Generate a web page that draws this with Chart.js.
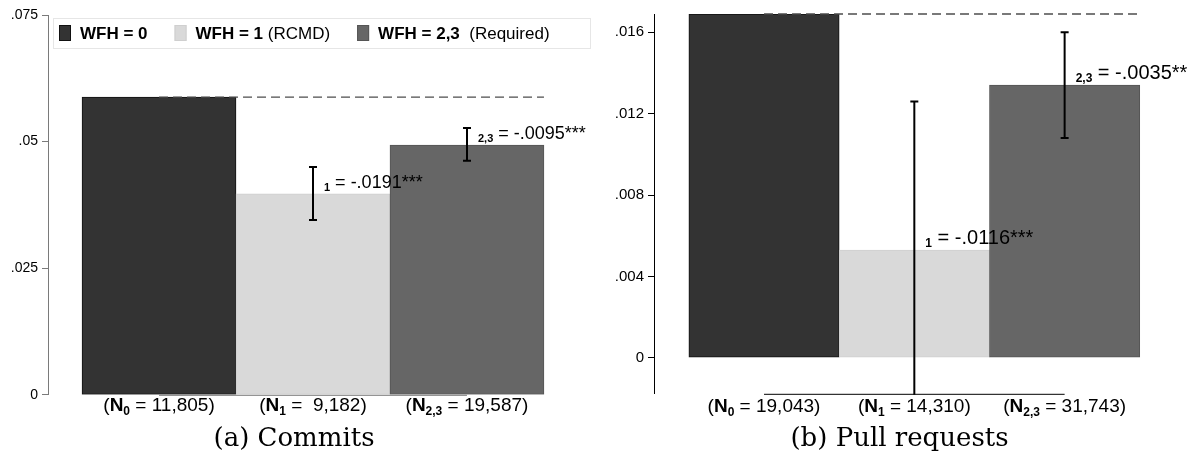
<!DOCTYPE html>
<html>
<head>
<meta charset="utf-8">
<script src="https://cdn.jsdelivr.net/npm/chart.js@4.4.1/dist/chart.umd.min.js"></script>
<style>
body{margin:0;background:#fff}
#a{position:absolute;left:0;top:0}
#b{position:absolute;left:600px;top:0}
</style>
</head>
<body>
<canvas id="a" width="600" height="456"></canvas>
<canvas id="b" width="599" height="456"></canvas>
<script>
// groups (legend), shared by both panels
const groups = ['WFH = 0', 'WFH = 1', 'WFH = 2,3']
const groupNotes = ['', ' (RCMD)', '  (Required)']
const groupSubs = ['0', '1', '2,3']
const colors = ['#333333', '#d9d9d9', '#666666']
const borders = ['#111111', '#cfcfcf', '#555555']

// (a) commits
const commits = [0.0588, 0.0397, 0.0493]
const commitsLo = [null, 0.0345, 0.0462]
const commitsHi = [null, 0.0450, 0.0527]
const commitsDiff = [null, '-.0191***', '-.0095***']
const commitsN = ['11,805', ' 9,182', '19,587']
const commitsTicks = [0, 0.025, 0.05, 0.075]

// (b) pull requests
const pulls = [0.0169, 0.0053, 0.0134]
const pullsLo = [null, -0.0020, 0.0108]
const pullsHi = [null, 0.0126, 0.0160]
const pullsDiff = [null, '-.0116***', '-.0035**']
const pullsN = ['19,043', '14,310', '31,743']
const pullsTicks = [0, 0.004, 0.008, 0.012, 0.016]

const SANS = '"Liberation Sans", Arial, Helvetica, sans-serif'
Chart.defaults.font.family = SANS
Chart.defaults.color = '#000'

function fmt(v) {
  let s = String(+v.toFixed(4))
  return s.replace(/^0\./, '.').replace(/^-0\./, '-.')
}

// draw a run of text pieces with different fonts
function drawParts(ctx, parts, x, y, align) {
  let w = 0
  parts.forEach(p => { ctx.font = p.font; p.w = ctx.measureText(p.t).width; w += p.w })
  let cx = align === 'center' ? x - w / 2 : x
  ctx.textAlign = 'left'
  ctx.textBaseline = 'alphabetic'
  parts.forEach(p => {
    ctx.font = p.font
    ctx.fillText(p.t, cx, y + (p.dy || 0))
    cx += p.w
  })
  return cx
}

const extras = {
  id: 'extras',
  afterDatasetsDraw(chart, args, o) {
    const {ctx, chartArea: ca, scales: {y}} = chart
    const bars = chart.getDatasetMeta(0).data
    ctx.save()

    // dashed line at the WFH = 0 level
    ctx.strokeStyle = '#4d4d4d'
    ctx.lineWidth = 1.3
    ctx.setLineDash([9, 5])
    ctx.beginPath()
    ctx.moveTo(bars[0].x, bars[0].y)
    ctx.lineTo(bars[2].x + bars[2].width / 2, bars[0].y)
    ctx.stroke()
    ctx.setLineDash([])

    // x axis line (first to last group)
    ctx.strokeStyle = o.axisColor
    ctx.lineWidth = 1
    ctx.beginPath()
    ctx.moveTo(bars[0].x, ca.bottom + 0.5)
    ctx.lineTo(bars[2].x, ca.bottom + 0.5)
    ctx.stroke()

    // confidence intervals
    ctx.save()
    ctx.beginPath()
    ctx.rect(ca.left, ca.top - 2, ca.width, ca.height + 3)
    ctx.clip()
    ctx.strokeStyle = '#000'
    ctx.lineWidth = 2
    o.lo.forEach((lo, i) => {
      if (lo === null) return
      const px = bars[i].x
      const y0 = y.getPixelForValue(lo)
      const y1 = y.getPixelForValue(o.hi[i])
      ctx.beginPath()
      ctx.moveTo(px, y0); ctx.lineTo(px, y1)
      ctx.moveTo(px - 4, y0); ctx.lineTo(px + 4, y0)
      ctx.moveTo(px - 4, y1); ctx.lineTo(px + 4, y1)
      ctx.stroke()
    })
    ctx.restore()

    // difference labels
    ctx.fillStyle = '#000'
    o.diff.forEach((d, i) => {
      if (d === null) return
      drawParts(ctx, [
        {t: groupSubs[i], font: 'bold ' + o.subSize + 'px ' + SANS, dy: 3},
        {t: ' = ' + d, font: o.diffSize + 'px ' + SANS}
      ], bars[i].x + 11, bars[i].y - 6, 'left')
    })

    // sample sizes under the bars
    o.n.forEach((n, i) => {
      drawParts(ctx, [
        {t: '(', font: '19px ' + SANS},
        {t: 'N', font: 'bold 19px ' + SANS},
        {t: groupSubs[i], font: 'bold 12px ' + SANS, dy: 4},
        {t: ' = ' + n + ')', font: '19px ' + SANS}
      ], bars[i].x, ca.bottom + o.nOffset, 'center')
    })

    // legend box inside the plot
    if (o.legend) {
      const bx = ca.left + 5, by = ca.top + 3, bw = ca.width - 3, bh = 30
      ctx.fillStyle = '#fff'
      ctx.fillRect(bx, by, bw, bh)
      ctx.strokeStyle = '#e6e6e6'
      ctx.lineWidth = 1
      ctx.strokeRect(bx + 0.5, by + 0.5, bw, bh)
      const cy = by + bh / 2
      let x = bx + 6
      groups.forEach((g, i) => {
        ctx.fillStyle = colors[i]
        ctx.fillRect(x, cy - 8, 12, 16)
        ctx.strokeStyle = borders[i]
        ctx.strokeRect(x + 0.5, cy - 7.5, 11, 15)
        ctx.fillStyle = '#000'
        x = drawParts(ctx, [
          {t: g, font: 'bold 17px ' + SANS},
          {t: groupNotes[i], font: '17px ' + SANS}
        ], x + 21, cy + 6, 'left')
        x += 27
      })
    }
    ctx.restore()
  }
}

function makeChart(id, o) {
  return new Chart(document.getElementById(id), {
    type: 'bar',
    data: {
      datasets: [{
        data: o.values.map((v, i) => ({x: i + 1, y: v})),
        backgroundColor: colors,
        borderColor: borders,
        borderWidth: 1,
        borderSkipped: false,
        barPercentage: 1,
        categoryPercentage: 1
      }]
    },
    options: {
      responsive: false,
      animation: false,
      layout: {padding: {left: 0, right: o.padRight, top: o.padTop, bottom: 0}},
      scales: {
        x: {
          type: 'linear', display: false, offset: false, bounds: 'data', min: o.xMin, max: o.xMax,
          // one tick per group so bars fill the whole group width
          afterBuildTicks: s => { s.ticks = o.values.map((v, i) => ({value: i + 1})) }
        },
        y: {
          min: o.yMin,
          max: o.yMax,
          afterBuildTicks: s => { s.ticks = o.ticks.map(v => ({value: v})) },
          afterFit: s => { s.width = o.axisWidth },
          ticks: {callback: v => fmt(v), font: {size: o.tickSize}, padding: 4, color: '#000'},
          grid: {drawOnChartArea: false, drawTicks: true, tickLength: 6, color: o.axisColor},
          border: {display: true, color: o.axisColor, width: 1}
        }
      },
      plugins: {
        legend: {display: false},
        tooltip: {enabled: false},
        title: {
          display: true,
          text: o.title,
          position: 'bottom',
          color: '#000',
          font: {family: '"DejaVu Serif", serif', size: 26, weight: 'normal'},
          padding: {top: o.titlePad, bottom: 1}
        },
        extras: {
          lo: o.lo, hi: o.hi, diff: o.diff, n: o.n, legend: o.legend,
          axisColor: o.axisColor, diffSize: o.diffSize, subSize: o.subSize, nOffset: o.nOffset
        }
      }
    },
    plugins: [extras]
  })
}

makeChart('a', {
  values: commits, lo: commitsLo, hi: commitsHi, diff: commitsDiff, n: commitsN, ticks: commitsTicks,
  title: '(a) Commits', legend: true,
  yMin: 0, yMax: 0.075, xMin: 0.279, xMax: 3.786,
  padTop: 15, padRight: 12, titlePad: 29, axisWidth: 48,
  axisColor: '#7a7a7a', tickSize: 14, diffSize: 18, subSize: 11, nOffset: 16
})

makeChart('b', {
  values: pulls, lo: pullsLo, hi: pullsHi, diff: pullsDiff, n: pullsN, ticks: pullsTicks,
  title: '(b) Pull requests', legend: false,
  yMin: -0.00177, yMax: 0.0169, xMin: 0.268, xMax: 3.894,
  padTop: 14, padRight: 0, titlePad: 30, axisWidth: 54,
  axisColor: '#000', tickSize: 15, diffSize: 20, subSize: 12, nOffset: 18
})
</script>
</body>
</html>
